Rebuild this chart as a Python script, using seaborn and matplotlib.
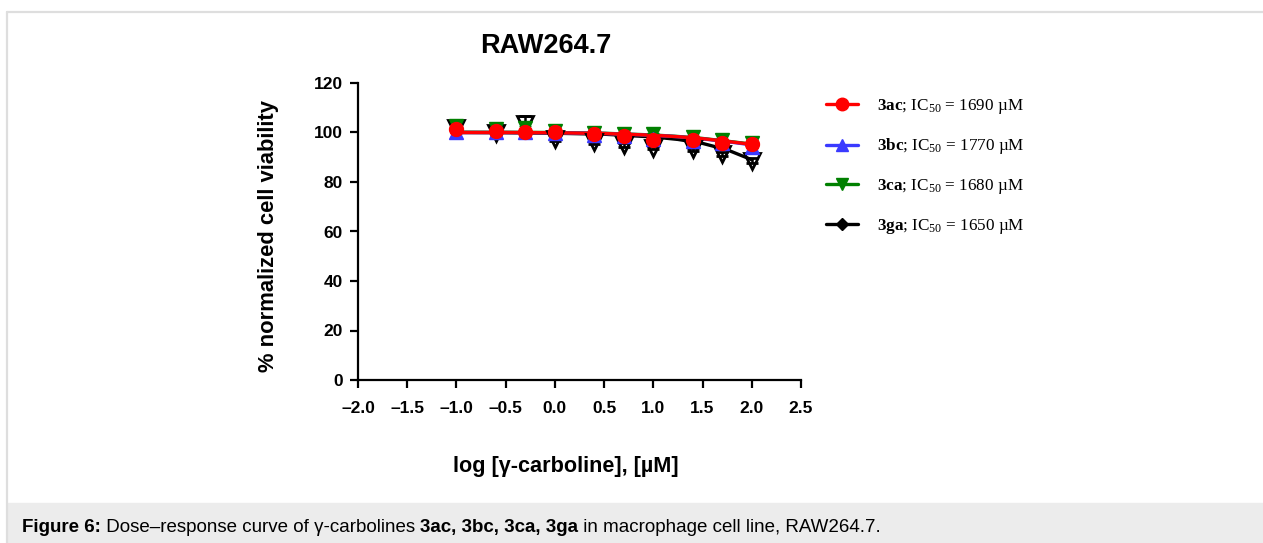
import matplotlib
matplotlib.use("Agg")
import matplotlib.pyplot as plt
from matplotlib.lines import Line2D
from matplotlib.patches import Rectangle
import pandas as pd
import seaborn as sns

# concentrations (log uM) and measured viability (%)
log_conc = [-1.0, -0.6, -0.3, 0.0, 0.4, 0.7, 1.0, 1.4, 1.7, 2.0]
via_3ac = [101.3, 100.7, 100.3, 100.1, 99.3, 98.7, 96.8, 96.8, 95.9, 95.5]
via_3bc = [100.2, 100.1, 100.0, 99.8, 99.0, 98.4, 97.2, 96.6, 95.6, 94.2]
via_3ca = [102.8, 101.6, 101.8, 100.8, 99.9, 99.5, 99.2, 98.0, 96.9, 95.6]
via_3ga = [101.8, 99.6, 103.6, 97.3, 96.0, 95.0, 93.9, 93.2, 91.2, 88.6]
err_3ac = [0.6, 0.5, 0.5, 0.5, 0.5, 0.5, 0.6, 0.5, 0.6, 0.6]
err_3bc = [0.5, 0.5, 0.5, 0.5, 0.5, 0.5, 0.5, 0.5, 0.5, 0.6]
err_3ca = [0.8, 0.7, 0.7, 0.6, 0.6, 0.6, 0.6, 0.6, 0.6, 0.6]
err_3ga = [0.8, 0.8, 3.0, 0.8, 0.7, 0.7, 0.7, 0.7, 0.8, 0.9]

# fitted curves
fit_x = [-1.0, -0.5, 0.0, 0.5, 1.0, 1.25, 1.5, 1.75, 2.0]
fit_3ac = [100.0, 100.0, 99.9, 99.6, 98.9, 98.3, 97.5, 96.4, 95.2]
fit_3bc = [100.0, 100.0, 99.9, 99.6, 98.9, 98.3, 97.4, 96.3, 95.0]
fit_3ca = [100.1, 100.1, 100.0, 99.7, 99.0, 98.4, 97.6, 96.5, 95.3]
fit_3ga = [100.0, 99.9, 99.7, 99.3, 98.2, 97.2, 95.6, 93.0, 89.0]

compounds = ["3ac", "3bc", "3ca", "3ga"]
ic50 = ["1690", "1770", "1680", "1650"]
xticks = [-2.0, -1.5, -1.0, -0.5, 0.0, 0.5, 1.0, 1.5, 2.0, 2.5]
xtick_labels = ["\u20132.0", "\u20131.5", "\u20131.0", "\u20130.5", "0.0", "0.5", "1.0", "1.5", "2.0", "2.5"]
yticks = [0, 20, 40, 60, 80, 100, 120]

sns.set_style("ticks")
plt.rcParams['font.family'] = ['Liberation Sans', 'DejaVu Sans']
plt.rcParams['text.color'] = 'black'
plt.rcParams['axes.labelcolor'] = 'black'
plt.rcParams['xtick.color'] = 'black'
plt.rcParams['ytick.color'] = 'black'
plt.rcParams['mathtext.fontset'] = 'custom'
plt.rcParams['mathtext.rm'] = 'Liberation Serif'
plt.rcParams['mathtext.bf'] = 'Liberation Serif:bold'
plt.rcParams['mathtext.it'] = 'Liberation Serif:italic'

styles = {
    "3ga": dict(color="black", marker="v", fc="none", ms=11, mew=2.0),
    "3ca": dict(color="#008000", marker="v", fc="#008000", ms=10, mew=1.0),
    "3bc": dict(color="#3a3aff", marker="^", fc="#3a3aff", ms=10, mew=1.0),
    "3ac": dict(color="#ff0000", marker="o", fc="#ff0000", ms=10, mew=1.0),
}
points = {"3ac": (via_3ac, err_3ac), "3bc": (via_3bc, err_3bc),
          "3ca": (via_3ca, err_3ca), "3ga": (via_3ga, err_3ga)}
fits = {"3ac": fit_3ac, "3bc": fit_3bc, "3ca": fit_3ca, "3ga": fit_3ga}

fig = plt.figure(figsize=(12.63, 5.43), dpi=100)
ax = fig.add_axes([358 / 1263, 1 - 380 / 543, 443 / 1263, 297 / 543])

for c in ["3ga", "3ca", "3bc", "3ac"]:
    st = styles[c]
    v, e = points[c]
    dfit = pd.DataFrame({"x": fit_x, "y": fits[c]})
    sns.lineplot(data=dfit, x="x", y="y", ax=ax, color=st["color"], lw=2.4, zorder=2)
    ax.errorbar(log_conc, v, yerr=e, fmt=st["marker"], color=st["color"], ms=st["ms"],
                mfc=st["fc"], mec=st["color"], mew=st["mew"], elinewidth=1.8,
                capsize=4, capthick=2, zorder=3)

ax.set_xlim(-2.0, 2.5)
ax.set_ylim(0, 120)
ax.set_xticks(xticks)
ax.set_xticklabels(xtick_labels)
ax.set_yticks(yticks)
for lab in ax.get_xticklabels() + ax.get_yticklabels():
    lab.set_fontweight("bold")
    lab.set_fontsize(12.5)
sns.despine(ax=ax)
for sp in ["left", "bottom"]:
    ax.spines[sp].set_linewidth(1.6)
    ax.spines[sp].set_color("black")
ax.tick_params(axis="both", width=1.6, length=6, direction="out")
ax.tick_params(axis="x", pad=9)
ax.tick_params(axis="y", pad=5)

ax.set_ylabel("% normalized cell viability", fontsize=15.8, fontweight="bold")
ax.set_xlabel("log [\u03b3-carboline], [\u00b5M]", fontsize=15.6, fontweight="bold")
ax.yaxis.set_label_coords(-0.178, 0.485)
ax.xaxis.set_label_coords(0.47, -0.255)

fig.text(546 / 1263, 1 - 46 / 543, "RAW264.7", fontsize=19.5, fontweight="bold",
         ha="center", va="center")

handles = [
    Line2D([], [], color="#ff0000", lw=2.4, marker="o", ms=9),
    Line2D([], [], color="#3a3aff", lw=2.4, marker="^", ms=9),
    Line2D([], [], color="#008000", lw=2.4, marker="v", ms=9),
    Line2D([], [], color="black", lw=2.4, marker="D", ms=6),
]
labels = [r"$\mathbf{%s}$; IC$_{50}$ = %s " % (c, v) + "\u00b5M" for c, v in zip(compounds, ic50)]
fig.legend(handles, labels, loc="upper left", bbox_to_anchor=(826 / 1263, 1 - 97 / 543),
           frameon=False, borderpad=0, borderaxespad=0, handlelength=1.9,
           handletextpad=1.1, labelspacing=1.2,
           prop={"family": "Liberation Serif", "size": 12.3})

# page frame and caption band
fig.add_artist(Line2D([7 / 1263, 7 / 1263], [0, 1 - 12 / 543], transform=fig.transFigure,
                      color="#dedede", lw=1.6))
fig.add_artist(Line2D([7 / 1263, 1], [1 - 12 / 543, 1 - 12 / 543], transform=fig.transFigure,
                      color="#dedede", lw=1.6))
fig.add_artist(Rectangle((8 / 1263, 0), 1, 40 / 543, transform=fig.transFigure,
                         color="#ececec", zorder=0))

parts = [("Figure 6:", "bold"), (" Dose\u2013response curve of \u03b3-carbolines ", "normal"),
         ("3ac, 3bc, 3ca, 3ga", "bold"), (" in macrophage cell line, RAW264.7.", "normal")]
fig.canvas.draw()
r = fig.canvas.get_renderer()
xpos = 22
for txt, w in parts:
    t = fig.text(xpos / 1263, 1 - 528 / 543, txt, fontsize=13.5, fontweight=w, va="center", ha="left")
    bb = t.get_window_extent(renderer=r)
    xpos += bb.width

fig.savefig("out.png", dpi=100)
